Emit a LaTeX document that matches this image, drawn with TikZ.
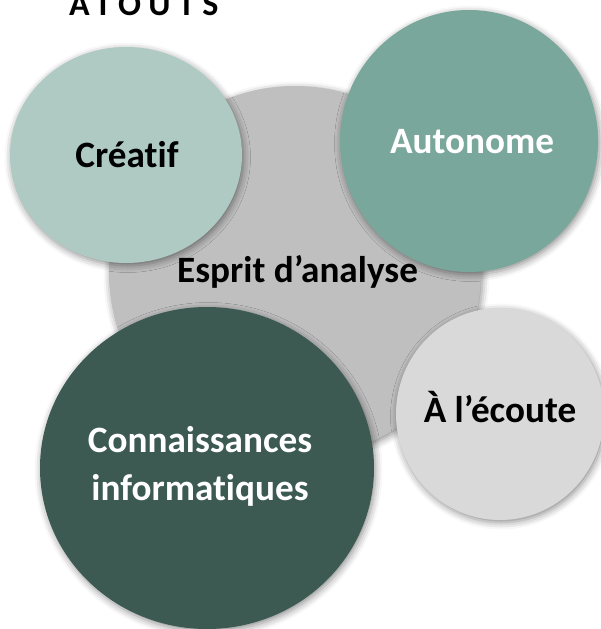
\documentclass[tikz,border=0pt]{standalone}
\usepackage{fontspec}
\setmainfont{Carlito}[Ligatures={NoCommon,NoRare}]
\usetikzlibrary{shapes.geometric,shadows.blur}
\definecolor{sageLight}{HTML}{AECAC3}
\definecolor{sageMid}{HTML}{7AA79B}
\definecolor{greyMid}{HTML}{BFBFBF}
\definecolor{greyLight}{HTML}{D9D9D9}
\definecolor{greenDark}{HTML}{3C5A52}
\tikzset{
  bubble/.style={ellipse, inner sep=0pt,
    blur shadow={shadow xshift=1.5pt, shadow yshift=-2.5pt, shadow blur radius=7pt, shadow opacity=45}},
  bubtext/.style={anchor=base, inner sep=0pt, align=center,
    font=\fontsize{37.2}{48}\selectfont\bfseries},
  titletext/.style={font=\fontsize{34}{40}\selectfont\bfseries\addfontfeature{LetterSpace=22}, anchor=base west, inner sep=0pt}
}
\begin{document}
\begin{tikzpicture}[x=1pt,y=-1pt]
\useasboundingbox (0,0) rectangle (601,629);
\node[titletext] (title) at (69,15) {ATOUTS};
\node[bubble, fill=greyMid, minimum width=372pt, minimum height=372pt] (esprit) at (295,272) {};
\node[bubtext] (espritText) at (297.5,282) {Esprit d’analyse};
\node[bubble, fill=sageLight, minimum width=232pt, minimum height=216pt] (creatif) at (126,155) {};
\node[bubtext] (creatifText) at (127,167) {Créatif};
\node[bubble, fill=sageMid, minimum width=258pt, minimum height=262pt] (autonome) at (469,141) {};
\node[bubtext, text=white] (autonomeText) at (472,153) {Autonome};
\node[bubble, fill=greenDark, minimum width=334pt, minimum height=322pt] (connais) at (207,468) {};
\node[bubtext, text=white] (connaisText) at (200,500) {Connaissances\\informatiques};
\node[bubble, fill=greyLight, minimum width=208pt, minimum height=212pt] (ecoute) at (500,414) {};
\node[bubtext] (ecouteText) at (500,422) {À l’écoute};
\end{tikzpicture}
\end{document}
